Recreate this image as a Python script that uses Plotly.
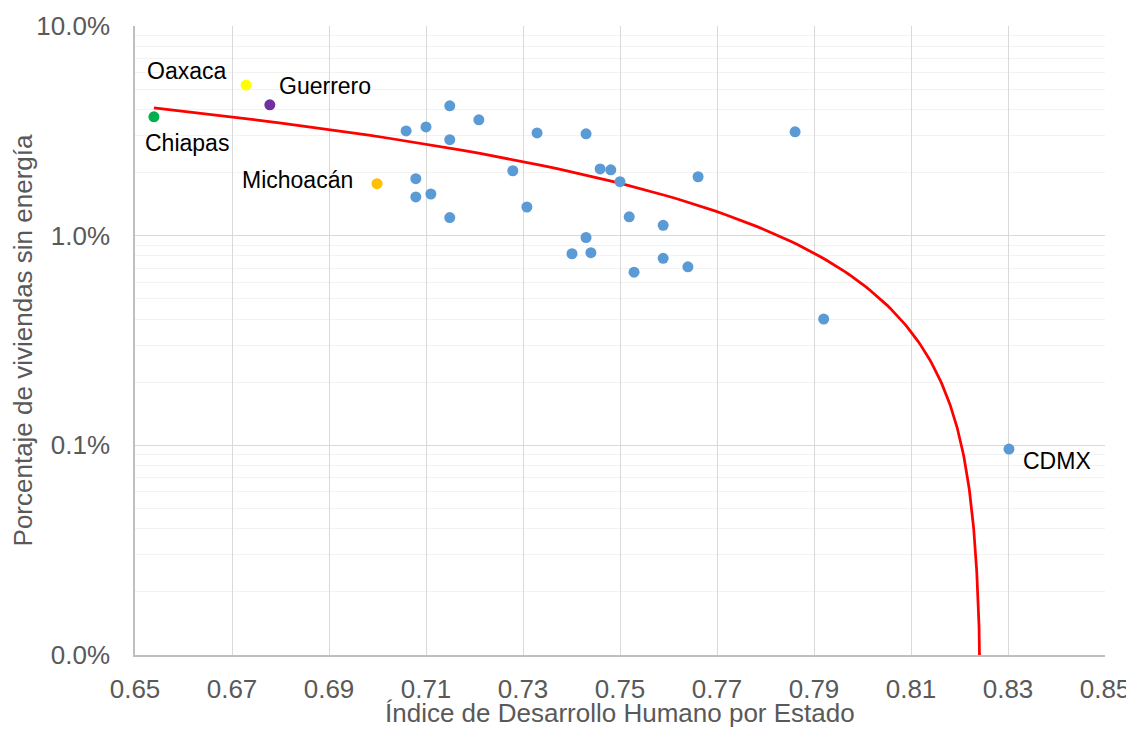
import numpy as np
import plotly.graph_objects as go

# Highlighted states
hl_names = ["Chiapas", "Oaxaca", "Guerrero", "Michoacán"]
hl_idh = [0.6539, 0.6729, 0.6778, 0.6999]
hl_pct = [3.69, 5.23, 4.21, 1.77]
hl_colors = ["#00B050", "#FFFF00", "#7030A0", "#FFC000"]

# Other states (blue)
other_idh = [0.7059, 0.7100, 0.7149, 0.7149, 0.7209, 0.7329, 0.7430, 0.7861,
             0.7079, 0.7079, 0.7110, 0.7149, 0.7279, 0.7308, 0.7459, 0.7481,
             0.7500, 0.7661, 0.7519, 0.7589, 0.7430, 0.7401, 0.7440, 0.7529,
             0.7589, 0.7640, 0.7920, 0.8302]
other_pct = [3.16, 3.30, 4.16, 2.87, 3.57, 3.09, 3.06, 3.13,
             1.87, 1.53, 1.58, 1.22, 2.04, 1.37, 2.08, 2.06,
             1.81, 1.91, 1.23, 1.12, 0.98, 0.82, 0.83, 0.67,
             0.78, 0.71, 0.40, 0.096]
cdmx_label = "CDMX"

# Linear trendline: value at its start and where it reaches 0
trend_start_idh = 0.6539
trend_start_pct = 4.07
trend_zero_idh = 0.8246

y_tickvals = [0.01, 0.1, 1, 10]
y_ticktext = ["0.0%", "0.1%", "1.0%", "10.0%"]
x_tickvals = [0.65, 0.67, 0.69, 0.71, 0.73, 0.75, 0.77, 0.79, 0.81, 0.83, 0.85]
x_title = "Índice de Desarrollo Humano por Estado"
y_title = "Porcentaje de viviendas sin energía"

slope = trend_start_pct / (trend_zero_idh - trend_start_idh)
d = np.geomspace(trend_zero_idh - trend_start_idh, 1e-8, 500)
tx = trend_zero_idh - d
ty = slope * d

FONT = "Liberation Sans, Arial, sans-serif"
fig = go.Figure()
fig.add_trace(go.Scatter(x=tx, y=ty, mode="lines",
                         line=dict(color="#FF0000", width=2.75),
                         hoverinfo="skip", showlegend=False))
fig.add_trace(go.Scatter(x=other_idh, y=other_pct, mode="markers",
                         marker=dict(color="#5B9BD5", size=11),
                         showlegend=False))
fig.add_trace(go.Scatter(x=hl_idh, y=hl_pct, mode="markers",
                         marker=dict(color=hl_colors, size=11),
                         text=hl_names, showlegend=False))

ann_cfg = {
    "Chiapas": dict(xanchor="center", xshift=33, yshift=-26),
    "Oaxaca": dict(xanchor="right", xshift=-18, yshift=14),
    "Guerrero": dict(xanchor="left", xshift=7, yshift=19),
    "Michoacán": dict(xanchor="right", xshift=-22, yshift=4),
}
for n, xv, yv in zip(hl_names, hl_idh, hl_pct):
    fig.add_annotation(x=xv, y=np.log10(yv), text=n, showarrow=False,
                       font=dict(size=23, color="#000000", family=FONT),
                       yanchor="middle", **ann_cfg[n])
fig.add_annotation(x=other_idh[-1], y=np.log10(other_pct[-1]), text=cdmx_label,
                   showarrow=False, xanchor="left", yanchor="middle",
                   xshift=12, yshift=-12,
                   font=dict(size=23, color="#000000", family=FONT))

# x-axis title placed as annotation below the tick labels
fig.add_annotation(x=0.5, y=0, xref="paper", yref="paper", text=x_title,
                   showarrow=False, xanchor="center", yanchor="middle",
                   yshift=-58, font=dict(size=26, color="#595959", family=FONT))

minor_vals = [k * 10.0 ** e for e in (-2, -1, 0) for k in range(2, 10)]

fig.update_layout(
    width=1134, height=731,
    margin=dict(l=127, r=37, t=18, b=84),
    plot_bgcolor="#FFFFFF", paper_bgcolor="#FFFFFF",
    font=dict(family=FONT, color="#595959", size=26),
    xaxis=dict(range=[0.65, 0.85], tickvals=x_tickvals,
               ticktext=[f"{v:.2f}" for v in x_tickvals],
               showgrid=True, gridcolor="#D9D9D9", gridwidth=1,
               showline=True, linecolor="#BFBFBF", linewidth=1.5,
               zeroline=False, ticks="", ticklabelstandoff=10,
               automargin=False,
               tickfont=dict(size=26, color="#595959")),
    yaxis=dict(type="log", range=[-2, 1], tickvals=y_tickvals, ticktext=y_ticktext,
               showgrid=True, gridcolor="#D9D9D9", gridwidth=1,
               showline=True, linecolor="#BFBFBF", linewidth=1.5,
               zeroline=False, ticks="", ticklabelstandoff=18,
               automargin=False,
               tickfont=dict(size=26, color="#595959"),
               minor=dict(tickvals=minor_vals, showgrid=True, gridcolor="#F2F2F2",
                          gridwidth=1, ticks=""),
               title=dict(text=y_title,
                          font=dict(size=26, color="#595959"), standoff=6)),
)

fig.write_html("out.html")
